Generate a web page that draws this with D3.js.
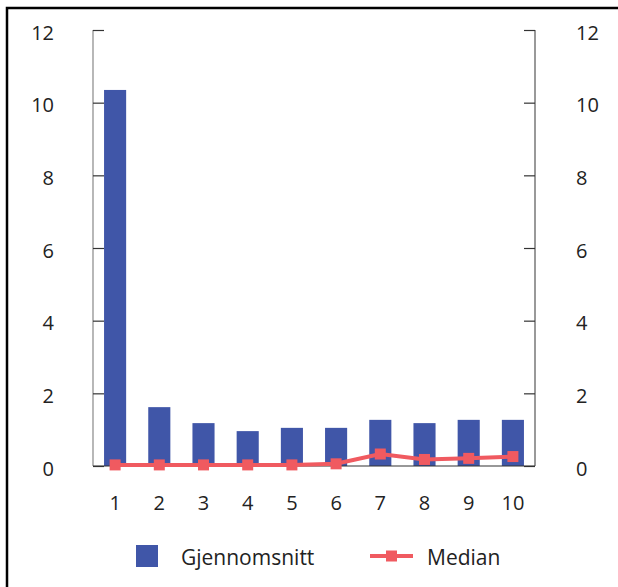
<!DOCTYPE html>
<html lang="no">
<head>
<meta charset="UTF-8">
<title>Gjennomsnitt og median</title>
<style>
    html, body { margin: 0; padding: 0; background: #fff; }
    svg { display: block; font-family: "Open Sans", "Noto Sans", sans-serif; }
</style>
</head>
<body>
<svg id="chart" width="618" height="587"></svg>
<script src="https://d3js.org/d3.v7.min.js"></script>
<script>
    // data
    const categories = ["1", "2", "3", "4", "5", "6", "7", "8", "9", "10"];
    const gjennomsnitt = [10.35, 1.62, 1.18, 0.96, 1.05, 1.05, 1.27, 1.18, 1.27, 1.27];
    const median = [0.03, 0.03, 0.03, 0.03, 0.03, 0.06, 0.33, 0.18, 0.21, 0.26];
    const yTicks = [0, 2, 4, 6, 8, 10, 12];

    const svg = d3.select("#chart");
    const margin = { top: 30, right: 83, bottom: 121, left: 93 };
    const width = +svg.attr("width");
    const height = +svg.attr("height");

    const barColor = "#4056a8";
    const lineColor = "#f05a60";
    const textColor = "#222";
    const fontSize = 20;

    // outer frame (only top and left show)
    svg.append("rect")
        .attr("x", 7).attr("y", 8)
        .attr("width", 700).attr("height", 700)
        .attr("fill", "none")
        .attr("stroke", "#000")
        .attr("stroke-width", 2.5);

    const x = d3.scaleBand()
        .domain(categories)
        .range([margin.left, width - margin.right])
        .paddingInner(0.5).paddingOuter(0.25);

    const y = d3.scaleLinear()
        .domain([0, 12])
        .range([height - margin.bottom, margin.top]);

    const x0 = margin.left, x1 = width - margin.right;

    // vertical axis lines
    svg.append("line")
        .attr("x1", x0).attr("x2", x0)
        .attr("y1", y(12)).attr("y2", y(0))
        .attr("stroke", "#888").attr("stroke-width", 1.2);
    svg.append("line")
        .attr("x1", x1).attr("x2", x1)
        .attr("y1", y(12)).attr("y2", y(0))
        .attr("stroke", "#555").attr("stroke-width", 1.2);

    // left and right ticks + labels
    const leftAxis = d3.axisLeft(y).tickValues(yTicks).tickSizeInner(-11).tickSizeOuter(0).tickPadding(39);
    const rightAxis = d3.axisRight(y).tickValues(yTicks).tickSizeInner(-11).tickSizeOuter(0).tickPadding(41);

    const gl = svg.append("g").attr("transform", `translate(${x0},0)`).call(leftAxis);
    const gr = svg.append("g").attr("transform", `translate(${x1},0)`).call(rightAxis);
    [gl, gr].forEach(g => {
        g.select(".domain").remove();
        g.selectAll(".tick line").attr("stroke", "#333").attr("stroke-width", 1.2);
        g.selectAll(".tick text")
            .attr("fill", textColor)
            .attr("dy", "0.45em")
            .attr("font-size", fontSize)
            .attr("font-family", "Open Sans, sans-serif");
    });

    // bars
    svg.append("g").selectAll("rect")
        .data(gjennomsnitt)
        .join("rect")
        .attr("x", (d, i) => x(categories[i]))
        .attr("width", x.bandwidth())
        .attr("y", d => y(d))
        .attr("height", d => y(0) - y(d))
        .attr("fill", barColor);

    // baseline
    svg.append("line")
        .attr("x1", x0).attr("x2", x1)
        .attr("y1", y(0)).attr("y2", y(0))
        .attr("stroke", "#333").attr("stroke-width", 1.2);

    // x labels
    const xAxis = d3.axisBottom(x).tickSize(0).tickPadding(30);
    const gx = svg.append("g").attr("transform", `translate(0,${y(0)})`).call(xAxis);
    gx.select(".domain").remove();
    gx.selectAll(".tick text")
        .attr("fill", textColor)
        .attr("font-size", fontSize)
        .attr("font-family", "Open Sans, sans-serif");

    // median line
    const cx = (d, i) => x(categories[i]) + x.bandwidth() / 2;
    const line = d3.line()
        .x(cx)
        .y(d => y(d));

    svg.append("path")
        .datum(median)
        .attr("d", line)
        .attr("fill", "none")
        .attr("stroke", lineColor)
        .attr("stroke-width", 4);

    svg.append("g").selectAll("rect")
        .data(median)
        .join("rect")
        .attr("x", (d, i) => cx(d, i) - 5.5)
        .attr("y", d => y(d) - 5.5)
        .attr("width", 11)
        .attr("height", 11)
        .attr("fill", lineColor);

    // legend
    const legend = svg.append("g");
    legend.append("rect")
        .attr("x", 136).attr("y", 545)
        .attr("width", 22).attr("height", 22)
        .attr("fill", barColor);
    legend.append("text")
        .attr("x", 181).attr("y", 565)
        .attr("font-size", 21).attr("fill", textColor)
        .text("Gjennomsnitt");
    legend.append("line")
        .attr("x1", 370).attr("x2", 413)
        .attr("y1", 556).attr("y2", 556)
        .attr("stroke", lineColor).attr("stroke-width", 4);
    legend.append("rect")
        .attr("x", 386).attr("y", 550.5)
        .attr("width", 11).attr("height", 11)
        .attr("fill", lineColor);
    legend.append("text")
        .attr("x", 427).attr("y", 565)
        .attr("font-size", 21).attr("fill", textColor)
        .text("Median");
</script>
</body>
</html>
